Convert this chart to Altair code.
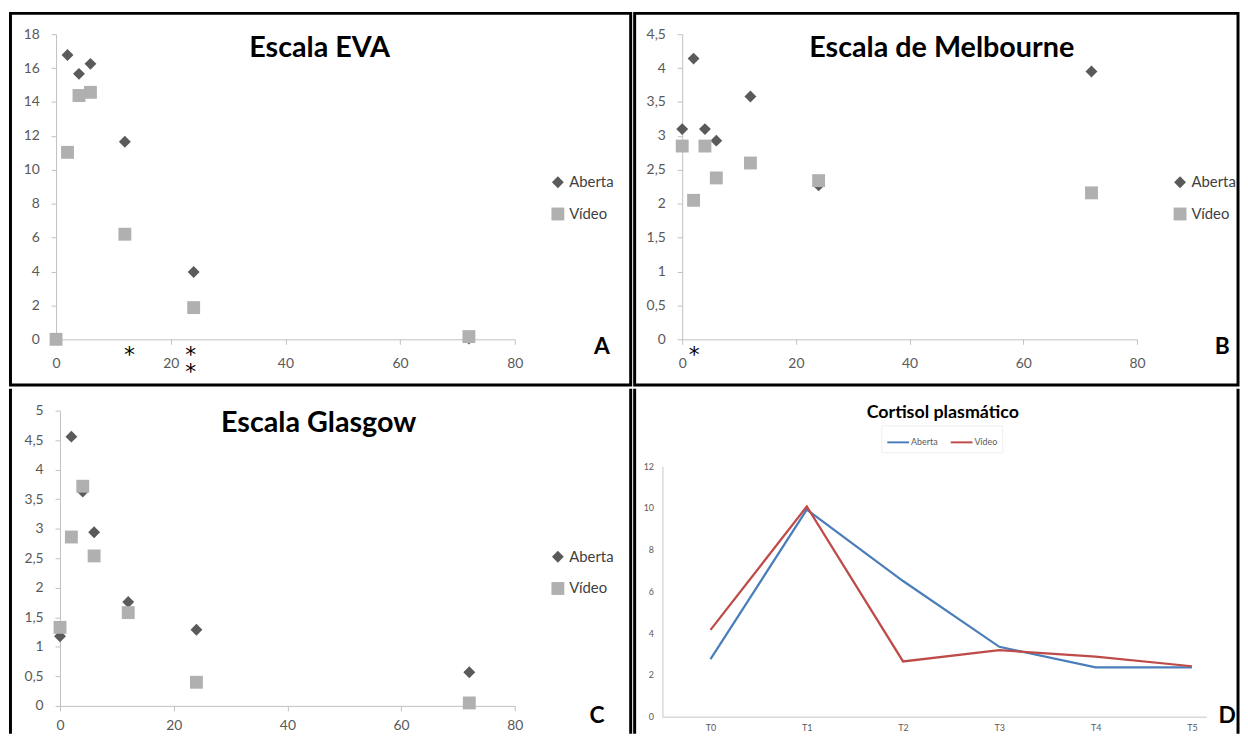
import altair as alt
import pandas as pd

# ---------------- data ----------------
hours = [0, 2, 4, 6, 12, 24, 72]
series_names = ["Aberta", "Vídeo"]

eva_aberta = [0.0, 16.77, 15.66, 16.25, 11.65, 3.97, 0.05]
eva_video = [0.0, 11.03, 14.38, 14.57, 6.20, 1.87, 0.16]

melb_aberta = [3.10, 4.14, 3.10, 2.93, 3.58, 2.27, 3.95]
melb_video = [2.85, 2.05, 2.85, 2.38, 2.60, 2.34, 2.16]

glas_aberta = [1.18, 4.56, 3.63, 2.94, 1.76, 1.29, 0.57]
glas_video = [1.33, 2.86, 3.72, 2.54, 1.58, 0.40, 0.05]

cort_categories = ["T0", "T1", "T2", "T3", "T4", "T5"]
cort_aberta = [2.76, 9.92, 6.50, 3.35, 2.37, 2.37]
cort_video = [4.16, 10.07, 2.65, 3.19, 2.88, 2.42]

x_ticks = [0, 20, 40, 60, 80]
eva_y_ticks = [0, 2, 4, 6, 8, 10, 12, 14, 16, 18]
melb_y_ticks = [0, 0.5, 1, 1.5, 2, 2.5, 3, 3.5, 4, 4.5]
glas_y_ticks = [0, 0.5, 1, 1.5, 2, 2.5, 3, 3.5, 4, 4.5, 5]
cort_y_ticks = [0, 2, 4, 6, 8, 10, 12]

# significance asterisks (x in hours, y below the axis line)
eva_star_x = [12.8, 23.5, 23.5]
eva_star_y = [-1.31, -1.31, -2.37]
melb_star_x = [2.1]
melb_star_y = [-0.33]

panel_titles = ["Escala EVA", "Escala de Melbourne", "Escala Glasgow", "Cortisol plasmático"]
panel_letters = ["A", "B", "C", "D"]

# ---------------- style ----------------
FONT = "Lato"
DIAMOND = "#5a5a5a"
SQUARE = "#b0b0b0"
AXIS_GRAY = "#c0c0c0"
LABEL_GRAY = "#595959"
BLUE = "#4a7ebb"
RED = "#be4b48"
COMMA = "replace(toString(datum.value), '.', ',')"
BORDER = 3

W_LEFT, W_RIGHT = 626, 609
H_TOP, H_BOT = 375, 348


def text_layer(text, x, y, size, weight="bold", color="black"):
    return alt.Chart(pd.DataFrame({"t": [text]})).mark_text(
        font=FONT, fontSize=size, fontWeight=weight, color=color,
        align="center", baseline="alphabetic"
    ).encode(text="t:N", x=alt.value(x), y=alt.value(y))


def side_borders(w, h):
    # left / right frame lines for the lower panels (their bottom edge is cut off)
    df = pd.DataFrame({"k": [0]})
    left = alt.Chart(df).mark_rule(color="black", strokeWidth=BORDER).encode(
        x=alt.value(0), y=alt.value(0), y2=alt.value(h))
    right = alt.Chart(df).mark_rule(color="black", strokeWidth=BORDER).encode(
        x=alt.value(w), y=alt.value(0), y2=alt.value(h))
    return [left, right]


def scatter_panel(idx, aberta, video, yticks, ydom, w, h, xr, yr,
                  legend_xy, title_xy, letter_xy, xlab_pad=12,
                  star_x=None, star_y=None, framed=True):
    df = pd.DataFrame({
        "h": hours + hours,
        "v": aberta + video,
        "s": ["Aberta"] * len(hours) + ["Vídeo"] * len(hours),
    })
    xscale = alt.Scale(domain=[0, 80], range=xr, nice=False, zero=False)
    yscale = alt.Scale(domain=ydom, range=yr, nice=False, zero=False)
    axis_common = dict(
        domainColor=AXIS_GRAY, tickColor=AXIS_GRAY, tickSize=5, grid=False,
        labelColor=LABEL_GRAY, labelFont=FONT, labelFontSize=14, title=None,
        labelFlush=False, labelOverlap=False,
    )
    pts = alt.Chart(df).mark_point(filled=True, opacity=1).encode(
        x=alt.X("h:Q", scale=xscale,
                axis=alt.Axis(values=x_ticks, offset=-(h - yr[0]), labelPadding=xlab_pad,
                              **axis_common)),
        y=alt.Y("v:Q", scale=yscale,
                axis=alt.Axis(values=yticks, offset=-xr[0], labelExpr=COMMA, labelPadding=12,
                              **axis_common)),
        color=alt.Color("s:N", scale=alt.Scale(domain=series_names, range=[DIAMOND, SQUARE]),
                        legend=alt.Legend(
                            orient="none", legendX=legend_xy[0], legendY=legend_xy[1],
                            title=None, symbolSize=100, labelFont=FONT, labelFontSize=15,
                            labelColor="#404040", rowPadding=16, labelOffset=4, padding=0,
                            symbolStrokeWidth=0, symbolOpacity=1)),
        shape=alt.Shape("s:N", scale=alt.Scale(domain=series_names, range=["diamond", "square"])),
        size=alt.Size("s:N", scale=alt.Scale(domain=series_names, range=[144, 169]), legend=None),
    )
    layers = [pts]
    if star_x:
        sdf = pd.DataFrame({"h": star_x, "v": star_y})
        stars = alt.Chart(sdf).mark_text(text="*", font="DejaVu Sans", fontSize=22,
                                         color="black", baseline="alphabetic").encode(
            x=alt.X("h:Q", scale=xscale), y=alt.Y("v:Q", scale=yscale))
        layers.append(stars)
    layers.append(text_layer(panel_titles[idx], title_xy[0], title_xy[1], 29))
    layers.append(text_layer(panel_letters[idx], letter_xy[0], letter_xy[1], 23))
    if not framed:
        layers += side_borders(w, h)
    ch = alt.layer(*layers).properties(width=w, height=h)
    if not framed:
        ch = ch.properties(view=alt.ViewBackground(stroke=None, strokeWidth=0))
    return ch


A = scatter_panel(0, eva_aberta, eva_video, eva_y_ticks, [0, 18], W_LEFT, H_TOP,
                  [46, 509], [329, 21], (545, 163), (312, 44), (597, 344),
                  star_x=eva_star_x, star_y=eva_star_y)
B = scatter_panel(1, melb_aberta, melb_video, melb_y_ticks, [0, 4.5], W_RIGHT, H_TOP,
                  [48, 507], [329, 21], (543, 163), (310, 44), (593, 344),
                  star_x=melb_star_x, star_y=melb_star_y)
C = scatter_panel(2, glas_aberta, glas_video, glas_y_ticks, [0, 5], W_LEFT, H_BOT,
                  [50, 509], [320, 22], (545, 162), (311, 44), (592, 337),
                  xlab_pad=8, framed=False)

# ---- panel D: line chart ----
dfD = pd.DataFrame({
    "i": list(range(len(cort_categories))) * 2,
    "c": cort_aberta + cort_video,
    "serie": ["Aberta"] * len(cort_categories) + ["Vídeo"] * len(cort_categories),
})
cat_expr = "[" + ",".join("'%s'" % c for c in cort_categories) + "][datum.value]"
d_axis = dict(domainColor="#d9d9d9", domainWidth=1.5, ticks=False, tickSize=0, grid=False,
              labelColor=LABEL_GRAY, labelFont=FONT, labelFontSize=9, title=None,
              labelFlush=False, labelOverlap=False)
D_Y0 = 331
lines = alt.Chart(dfD).mark_line(strokeWidth=2.25).encode(
    x=alt.X("i:Q", scale=alt.Scale(domain=[-0.5, 5.15], range=[28, 577], nice=False, zero=False),
            axis=alt.Axis(values=list(range(len(cort_categories))), labelExpr=cat_expr,
                          offset=-(H_BOT - D_Y0), labelPadding=7, **d_axis)),
    y=alt.Y("c:Q", scale=alt.Scale(domain=[0, 12], range=[D_Y0, 78], nice=False, zero=False),
            axis=alt.Axis(values=cort_y_ticks, offset=-28, labelPadding=9, **d_axis)),
    color=alt.Color("serie:N", scale=alt.Scale(domain=series_names, range=[BLUE, RED]),
                    legend=alt.Legend(orient="none", legendX=249, legendY=37, direction="horizontal",
                                      title=None, symbolType="stroke", symbolSize=484,
                                      symbolStrokeWidth=2, labelFont=FONT, labelFontSize=9,
                                      labelColor=LABEL_GRAY, labelOffset=1, columnPadding=9,
                                      padding=5, strokeColor="#eeeeee")),
    detail="serie:N",
)
D = alt.layer(
    lines,
    text_layer(panel_titles[3], 311, 29, 18),
    text_layer(panel_letters[3], 598, 337, 23),
    *side_borders(W_RIGHT, H_BOT),
).properties(width=W_RIGHT, height=H_BOT, view=alt.ViewBackground(stroke=None, strokeWidth=0))

indep_s = dict(x="independent", y="independent", color="independent",
               shape="independent", size="independent")
indep_l = dict(color="independent", shape="independent", size="independent")

top = alt.hconcat(A, B, spacing=0).resolve_scale(**indep_s).resolve_legend(**indep_l)
bottom = alt.hconcat(C, D, spacing=0).resolve_scale(**indep_s).resolve_legend(**indep_l)

chart = alt.vconcat(top, bottom, spacing=0).resolve_scale(**indep_s).resolve_legend(**indep_l).properties(
    padding={"left": 0.5, "top": 0, "right": 0, "bottom": 0},
    background="white",
).configure_view(stroke="black", strokeWidth=BORDER)

chart.save("out.html", embed_options={"renderer": "svg", "actions": False})
